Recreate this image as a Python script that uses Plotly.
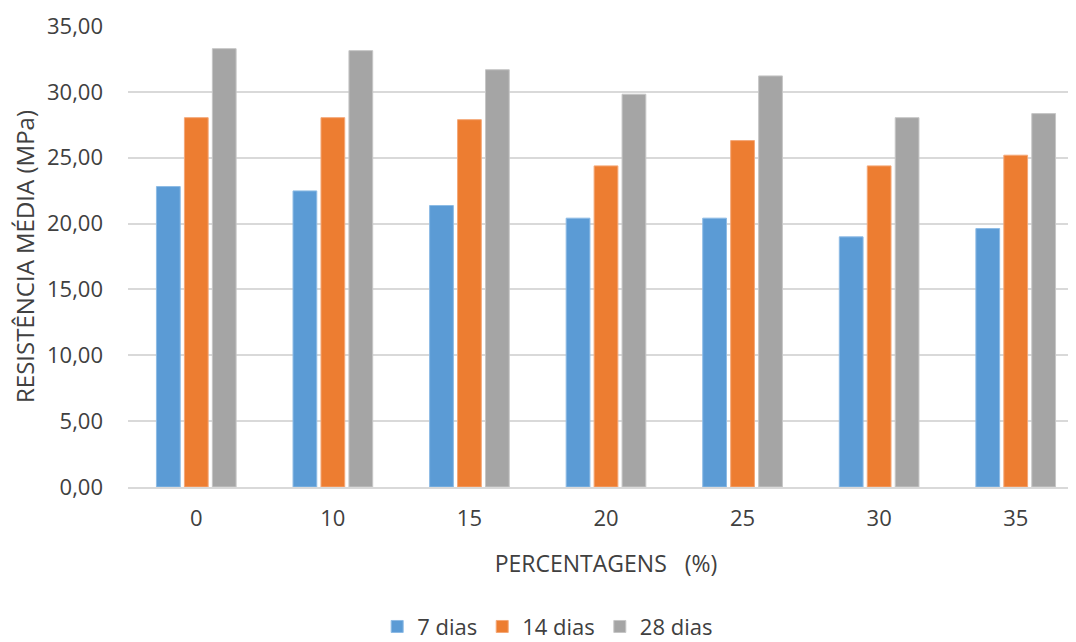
import plotly.graph_objects as go

categories = ["0", "10", "15", "20", "25", "30", "35"]
dias_7 = [22.81, 22.48, 21.37, 20.41, 20.41, 18.99, 19.62]
dias_14 = [28.04, 28.04, 27.89, 24.38, 26.30, 24.38, 25.19]
dias_28 = [33.28, 33.13, 31.68, 29.82, 31.21, 28.04, 28.35]
y_ticks = [0, 5, 10, 15, 20, 25, 30, 35]
y_tick_text = ["0,00", "5,00", "10,00", "15,00", "20,00", "25,00", "30,00", "35,00"]

FONT = "Open Sans"
TXT = "#404040"

fig = go.Figure()
for name, vals, col, edge in [
    ("7 dias", dias_7, "#5B9BD5", "#8DBBE5"),
    ("14 dias", dias_14, "#ED7D31", "#F4A878"),
    ("28 dias", dias_28, "#A5A5A5", "#C6C6C6"),
]:
    fig.add_trace(go.Bar(
        x=categories, y=vals, name=name,
        marker=dict(color=col, line=dict(color=edge, width=1)),
    ))

fig.update_layout(
    width=1076, height=642,
    margin=dict(l=120, r=0, t=18, b=163, autoexpand=False),
    paper_bgcolor="white", plot_bgcolor="white",
    barmode="group", bargap=0.386, bargroupgap=0.15,
    font=dict(family=FONT, size=22, color=TXT),
    xaxis=dict(
        type="category", range=[-0.5, 6.5], automargin=False,
        showgrid=False, showline=True, linecolor="#D9D9D9", linewidth=2,
        ticks="", ticklabelstandoff=11,
        tickfont=dict(size=22, color=TXT),
        title=dict(text="PERCENTAGENS &nbsp;&nbsp;(%)", font=dict(size=23, color=TXT), standoff=24),
    ),
    yaxis=dict(
        range=[0, 35], tickvals=y_ticks, ticktext=y_tick_text, automargin=False,
        showgrid=True, gridcolor="#D9D9D9", gridwidth=2,
        zeroline=False, showline=False, ticks="", ticklabelstandoff=24,
        tickfont=dict(size=22, color=TXT),
        title=dict(text="RESISTÊNCIA MÉDIA (MPa)", font=dict(size=24, color=TXT), standoff=18),
    ),
    legend=dict(
        orientation="h", x=0.439, xanchor="center", y=-0.303, yanchor="middle",
        font=dict(size=22, color=TXT), itemwidth=30, traceorder="normal",
    ),
)

fig.write_html("out.html")
